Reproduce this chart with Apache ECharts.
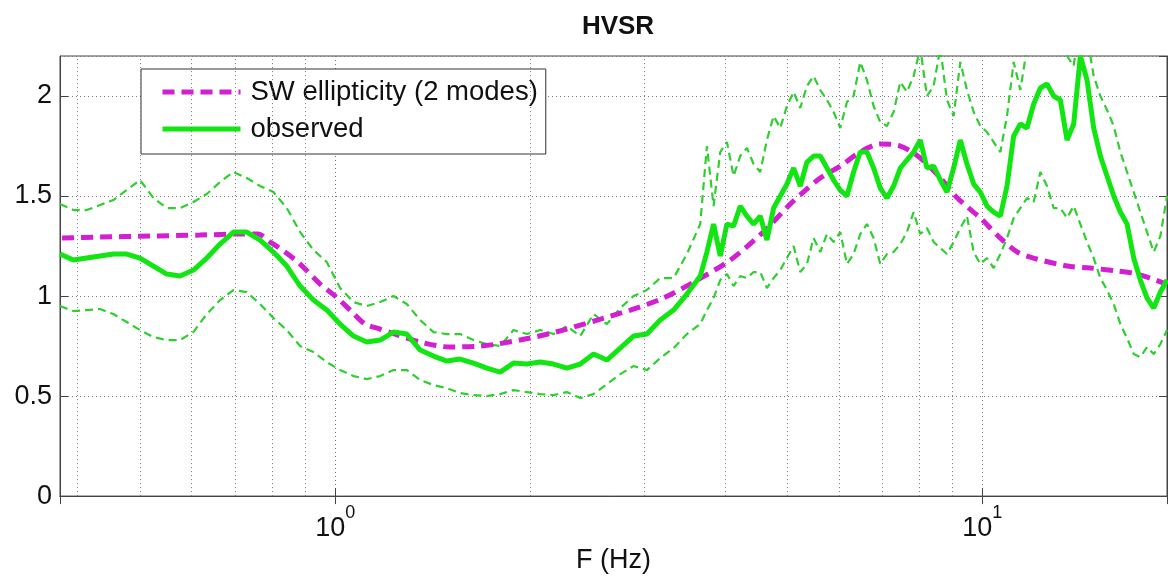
<!DOCTYPE html>
<html><head><meta charset="utf-8">
<script src="https://cdn.jsdelivr.net/npm/echarts@6/dist/echarts.min.js"></script>
<style>html,body{margin:0;padding:0;background:#fff}#c{width:1168px;height:579px}</style>
</head><body><div id="c"></div>
<script>
// Frequencies (Hz) shared by the observed curves
const freq = [
0.3757,0.3940,0.4131,0.4332,0.4543,0.4763,0.4995,0.5238,0.5492,0.5759,
0.6039,0.6333,0.6640,0.6963,0.7302,0.7656,0.8028,0.8418,0.8828,0.9257,
0.9706,1.0178,1.0673,1.1191,1.1735,1.2306,1.2904,1.3531,1.4188,1.4878,
1.5601,1.6359,1.7154,1.7988,1.8862,1.9779,2.0740,2.1748,2.2805,2.3913,
2.5075,2.6294,2.7572,2.8912,3.0317,3.1790,3.3335,3.4955,3.6654,
3.7534,3.8435,3.9358,4.0303,4.1270,4.2261,4.3276,4.4315,4.5379,4.6468,4.7584,4.8726,4.9896,5.1094,
5.232,5.358,5.486,5.618,5.753,5.891,6.032,6.177,6.325,6.477,
6.633,6.792,6.955,7.122,7.293,7.468,7.647,7.831,8.019,8.211,
8.409,8.611,8.818,9.030,9.246,9.468,9.696,9.928,10.167,10.411,
10.661,10.917,11.179,11.447,11.722,12.004,12.292,12.587,12.889,13.199,
13.516,13.840,14.173,14.513,14.861,15.218,15.584,15.958,16.341,16.733,
17.135,17.546,17.968,18.399,18.841,19.29];

// Observed HVSR (mean)
const observed = [
1.21,1.18,1.19,1.20,1.21,1.21,1.19,1.15,1.11,1.10,
1.13,1.19,1.26,1.32,1.32,1.28,1.22,1.15,1.05,0.98,
0.93,0.86,0.80,0.77,0.78,0.82,0.81,0.73,0.70,0.675,
0.685,0.665,0.64,0.62,0.665,0.66,0.67,0.66,0.64,0.66,
0.71,0.68,0.74,0.80,0.81,0.88,0.93,1.01,1.10,
1.22,1.36,1.20,1.36,1.35,1.45,1.40,1.36,1.40,1.28,1.44,1.50,1.56,1.64,
1.55,1.67,1.70,1.70,1.64,1.58,1.53,1.50,1.62,1.72,
1.72,1.64,1.54,1.49,1.55,1.64,1.68,1.72,1.78,1.64,
1.65,1.58,1.52,1.64,1.78,1.66,1.56,1.52,1.45,1.42,
1.40,1.55,1.80,1.86,1.84,1.96,2.04,2.06,2.00,1.98,
1.78,1.86,2.20,2.08,1.84,1.70,1.60,1.50,1.42,1.36,
1.19,1.08,0.99,0.94,1.02,1.08];

// Observed upper bound (dashed)
const observedUpper = [
1.46,1.43,1.43,1.455,1.48,1.53,1.58,1.49,1.44,1.44,
1.47,1.51,1.57,1.62,1.59,1.55,1.52,1.44,1.32,1.23,
1.17,1.04,0.97,0.95,0.97,1.00,0.96,0.88,0.82,0.81,
0.81,0.78,0.76,0.75,0.83,0.81,0.83,0.81,0.85,0.80,
0.91,0.86,0.94,1.00,1.03,1.09,1.09,1.21,1.36,
1.75,1.45,1.72,1.77,1.60,1.70,1.74,1.66,1.62,1.78,1.90,1.84,1.95,2.02,
1.94,2.05,2.10,2.03,1.98,1.92,1.84,1.97,2.00,2.17,
2.08,1.95,1.87,1.85,1.92,2.07,2.02,2.10,2.24,2.00,
2.05,2.24,1.98,1.90,2.17,2.03,1.92,1.85,1.82,1.77,
1.72,1.90,2.17,2.03,2.24,2.30,2.35,2.40,2.30,2.25,
2.20,2.15,2.40,2.30,2.10,2.00,1.93,1.85,1.72,1.62,
1.52,1.42,1.32,1.22,1.30,1.50];

// Observed lower bound (dashed)
const observedLower = [
0.95,0.925,0.93,0.935,0.91,0.87,0.83,0.795,0.78,0.78,
0.82,0.91,0.98,1.03,1.02,0.96,0.89,0.83,0.75,0.72,
0.67,0.63,0.60,0.585,0.60,0.63,0.63,0.58,0.555,0.54,
0.515,0.505,0.50,0.51,0.53,0.52,0.51,0.505,0.52,0.49,
0.51,0.56,0.61,0.65,0.63,0.69,0.74,0.81,0.86,
0.93,0.99,1.08,1.11,1.05,1.10,1.09,1.12,1.12,1.04,1.09,1.13,1.19,1.25,
1.12,1.16,1.29,1.22,1.31,1.27,1.32,1.16,1.21,1.31,
1.36,1.29,1.16,1.21,1.22,1.26,1.32,1.42,1.31,1.34,
1.27,1.24,1.21,1.27,1.34,1.40,1.22,1.16,1.19,1.14,
1.21,1.29,1.39,1.44,1.49,1.47,1.62,1.55,1.44,1.44,
1.39,1.45,1.36,1.27,1.19,1.09,1.03,0.96,0.86,0.79,
0.71,0.695,0.745,0.71,0.76,0.83];

// SW ellipticity (2 modes)
const ellFreq = [0.3785,0.4333,0.5176,0.6184,0.7129,0.7603,0.7936,0.8367,0.8828,0.9480,
1.0,1.0548,1.1127,1.1735,1.238,1.353,1.506,1.675,1.780,2.001,
2.251,2.541,2.858,3.214,3.627,4.078,4.586,5.050,5.289,5.617,
6.034,6.478,6.957,7.469,8.021,8.614,9.150,9.929,10.66,11.33,
11.99,13.53,14.69,16.17,17.36,19.25];
const ellValue = [1.29,1.295,1.30,1.305,1.31,1.31,1.27,1.22,1.16,1.06,
1.0,0.93,0.86,0.835,0.81,0.77,0.745,0.75,0.76,0.79,
0.83,0.88,0.93,0.99,1.08,1.18,1.32,1.46,1.52,1.59,
1.65,1.72,1.76,1.75,1.69,1.59,1.49,1.39,1.29,1.22,
1.19,1.15,1.14,1.125,1.11,1.06];

// Axis settings
const xMin = 0.3757, xMax = 19.29;
const yTicks = [0, 0.5, 1, 1.5, 2];
const minorGridF = [0.4,0.5,0.6,0.7,0.8,0.9,2,3,4,5,6,7,8,9];

const FONT = '"Liberation Sans", Arial, Helvetica, sans-serif';
const AX = '#444';
const gridDot = {color:'#7a7a7a', width:1, type:[1,3]};
const GREEN = '#12e612', GREEN_D = '#2fcf2f', MAG = '#d21fd2';
const zip = (xs, ys) => xs.map((x, i) => [x, ys[i]]);

const chart = echarts.init(document.getElementById('c'), null, {renderer:'canvas'});
chart.setOption({
  animation:false,
  backgroundColor:'#fff',
  title:{text:'HVSR', left:613, top:9, textAlign:'center',
    textStyle:{fontFamily:FONT, fontSize:26, fontWeight:'bold', color:'#111'}},
  grid:{left:60, right:1, top:56, bottom:79, show:true, borderColor:AX, borderWidth:1},
  legend:{
    data:['SW ellipticity (2 modes)','observed'],
    orient:'vertical', left:141, top:69,
    itemWidth:78, itemHeight:14, itemGap:7,
    padding:[8,8,10,19],
    backgroundColor:'#fff', borderColor:'#333', borderWidth:1,
    selectedMode:false,
    itemStyle:{opacity:0},
    lineStyle:{width:5},
    textStyle:{fontFamily:FONT, fontSize:27.5, color:'#111', lineHeight:30, padding:[0,0,0,5]}
  },
  xAxis:[{
    type:'log', logBase:10, min:xMin, max:xMax,
    name:'F (Hz)', nameLocation:'middle', nameGap:50,
    nameTextStyle:{fontFamily:FONT, fontSize:27, color:'#111'},
    axisLine:{show:true, lineStyle:{color:AX}},
    axisTick:{show:true, inside:true, length:8, lineStyle:{color:AX}},
    splitLine:{show:true, lineStyle:gridDot},
    axisLabel:{
      margin:8, showMinLabel:false, showMaxLabel:false,
      formatter:function(v){
        const e = Math.log10(v), r = Math.round(e);
        return Math.abs(e - r) < 1e-6 ? '{b|10}{s|' + r + '}' : '';
      },
      rich:{
        b:{fontFamily:FONT, fontSize:27, color:'#111', lineHeight:38, verticalAlign:'bottom'},
        s:{fontFamily:FONT, fontSize:18, color:'#111', lineHeight:20, verticalAlign:'top'}
      }
    }
  },{
    type:'log', logBase:10, min:xMin, max:xMax, position:'top',
    axisLine:{show:true, lineStyle:{color:AX}},
    axisTick:{show:true, inside:true, length:8, lineStyle:{color:AX}},
    axisLabel:{show:false}, splitLine:{show:false}
  }],
  yAxis:[{
    type:'value', min:0, max:2.2, interval:0.5,
    axisLine:{show:true, lineStyle:{color:AX}},
    axisTick:{show:true, inside:true, length:8, lineStyle:{color:AX}},
    splitLine:{show:true, lineStyle:gridDot},
    axisLabel:{fontFamily:FONT, fontSize:27, color:'#111', margin:8, showMaxLabel:false,
      formatter:function(v){ return yTicks.indexOf(v) >= 0 ? String(v) : ''; }}
  },{
    type:'value', min:0, max:2.2, interval:0.5, position:'right',
    axisLine:{show:true, lineStyle:{color:AX}},
    axisTick:{show:true, inside:true, length:8, lineStyle:{color:AX}},
    axisLabel:{show:false}, splitLine:{show:false}
  }],
  series:[
    {type:'line', data:zip(freq, observedUpper), symbol:'none', z:2, silent:true,
     lineStyle:{color:GREEN_D, width:2.2, type:[8,5]}, itemStyle:{color:GREEN_D},
     markLine:{silent:true, symbol:['none','none'], label:{show:false}, lineStyle:gridDot,
       emphasis:{disabled:true}, data:minorGridF.map(v => ({xAxis:v}))}},
    {type:'line', data:zip(freq, observedLower), symbol:'none', z:2, silent:true,
     lineStyle:{color:GREEN_D, width:2.2, type:[8,5]}, itemStyle:{color:GREEN_D}},
    {name:'SW ellipticity (2 modes)', type:'line', data:zip(ellFreq, ellValue), symbol:'none', z:3,
     smooth:0.3, silent:true,
     lineStyle:{color:MAG, width:5, type:[12,7]}, itemStyle:{color:MAG}},
    {name:'observed', type:'line', data:zip(freq, observed), symbol:'none', z:4, silent:true,
     lineStyle:{color:GREEN, width:5}, itemStyle:{color:GREEN}}
  ]
});
</script>
</body></html>
